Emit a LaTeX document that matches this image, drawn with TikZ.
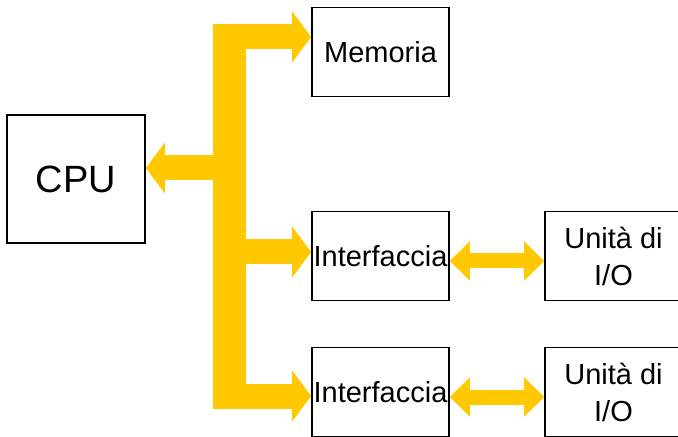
\documentclass[tikz,border=0pt]{standalone}
\usepackage{fontspec}
\setmainfont{Liberation Sans}
\usetikzlibrary{arrows.meta}
\definecolor{busyellow}{RGB}{255,200,0}
\tikzset{
  block/.style={draw,line width=.8pt,inner sep=0pt,align=center,
    minimum width=68.5pt,minimum height=44.5pt,
    font=\fontsize{14.5}{18.5}\selectfont},
  bus/.style={busyellow,line width=12.5pt,-{Triangle[width=25pt,length=9.5pt]}},
  link/.style={busyellow,line width=7.5pt,
    {Triangle[width=19pt,length=10pt]}-{Triangle[width=19pt,length=10pt]}},
}
\begin{document}
\begin{tikzpicture}[x=.5pt,y=-.5pt]
\clip (0,0) rectangle (678,437);
% blocchi
\node[block,minimum width=69pt,minimum height=64pt,font=\fontsize{19}{22}\selectfont] (cpu) at (76,179) {CPU};
\node[block] (mem) at (380.5,52) {Memoria};
\node[block] (int1) at (380.5,256) {Interfaccia};
\node[block] (int2) at (380.5,392) {Interfaccia};
\node[block] (io1) at (613.5,256) {Unità di\\I/O};
\node[block] (io2) at (613.5,392) {Unità di\\I/O};
% bus
\coordinate (bus) at (229.5,0);
\coordinate (memin) at ([yshift=7.5pt]mem.west);
\coordinate (cpuin) at ([yshift=5.5pt]cpu.east);
\coordinate (int1in) at ([yshift=2pt]int1.west);
\coordinate (int2in) at ([yshift=-2pt]int2.west);
\draw[busyellow,line width=16.5pt,shorten <=-6.25pt,shorten >=-6.25pt] (memin -| bus) -- (int2in -| bus);
\draw[bus] (memin -| bus) -- (memin);
\draw[bus] (cpuin -| bus) -- (cpuin);
\draw[bus] (int1in -| bus) -- (int1in);
\draw[bus] (int2in -| bus) -- (int2in);
% collegamenti I/O
\coordinate (l1) at ([yshift=-2.5pt]int1.east);
\coordinate (l2) at ([yshift=-2.5pt]int2.east);
\draw[link] (l1) -- (l1 -| io1.west);
\draw[link] (l2) -- (l2 -| io2.west);
\end{tikzpicture}
\end{document}
